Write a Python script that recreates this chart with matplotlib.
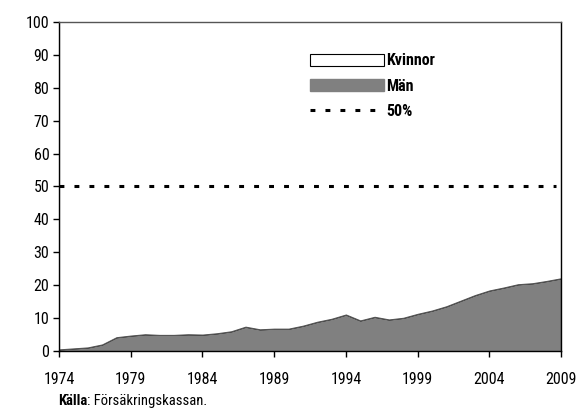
import matplotlib
matplotlib.use("Agg")
import matplotlib.pyplot as plt
from matplotlib.patches import Patch
from matplotlib.lines import Line2D

plt.rcParams["font.family"] = ["Roboto Condensed", "DejaVu Sans"]

years = list(range(1974, 2010))
man = [0.5, 0.8, 1.1, 2.0, 4.2, 4.7, 5.1, 4.9, 4.9, 5.1, 5.0, 5.4, 6.0, 7.4,
       6.6, 6.8, 6.8, 7.7, 8.9, 9.8, 11.1, 9.3, 10.4, 9.6, 10.1, 11.3, 12.3,
       13.6, 15.3, 17.0, 18.4, 19.3, 20.3, 20.6, 21.3, 22.1]
xtick_years = [1974, 1979, 1984, 1989, 1994, 1999, 2004, 2009]

fig = plt.figure(figsize=(5.77, 4.13), dpi=100)
ax = fig.add_axes([0.1023, 0.150, 0.870, 0.797])

dash = (0, (1.6, 3.3))
ax.fill_between(years, 0, man, color="#808080", edgecolor="black", linewidth=0.8)
ax.fill_between(years, man, 100, color="white", edgecolor="#555555", linewidth=0.8)
ax.axhline(50, color="black", linewidth=2.2, linestyle=dash, xmax=0.99)

ax.set_xlim(1974, 2009)
ax.set_ylim(0, 100)
ax.set_xticks(xtick_years)
ax.set_yticks(range(0, 101, 10))
ax.tick_params(direction="out", length=4, width=1, labelsize=11.5)
ax.tick_params(axis="x", pad=11)
ax.tick_params(axis="y", pad=3)
for s in ["left", "bottom", "right"]:
    ax.spines[s].set_color("black")
    ax.spines[s].set_linewidth(1)
ax.spines["top"].set_color("#555555")
ax.spines["top"].set_linewidth(1)

handles = [Patch(facecolor="white", edgecolor="black", linewidth=0.8),
           Patch(facecolor="#808080", edgecolor="#808080"),
           Line2D([0], [0], color="black", linewidth=2.2, linestyle=dash)]
ax.legend(handles, ["Kvinnor", "Män", "50%"], loc="upper left",
          bbox_to_anchor=(0.472, 0.948), frameon=False, handlelength=4.6,
          handleheight=0.75, handletextpad=0.15, labelspacing=0.65,
          prop={"weight": "bold", "size": 11.5})

fig.canvas.draw()
t1 = fig.text(0.100, 0.020, "Källa", fontsize=10.5, fontweight="bold")
bb = t1.get_window_extent(fig.canvas.get_renderer())
fig.text(bb.x1 / fig.bbox.width, 0.020, ": Försäkringskassan.", fontsize=10.5)

fig.savefig("out.png", dpi=100)
